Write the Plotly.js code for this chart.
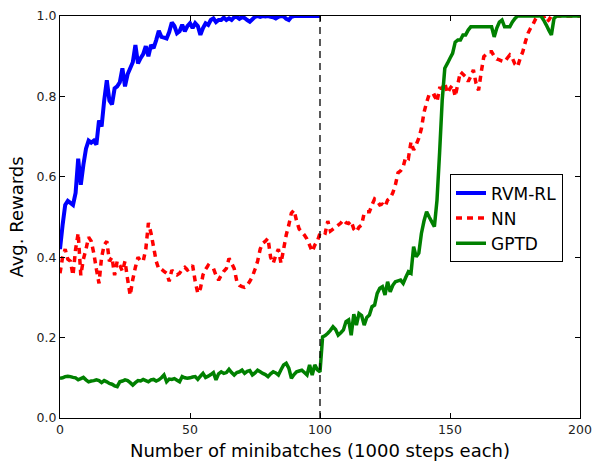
<!DOCTYPE html>
<html>
<head>
<meta charset="utf-8">
<script src="https://cdn.plot.ly/plotly-3.0.1.min.js"></script>
<style>html,body{margin:0;padding:0;background:#fff;}#chart{width:593px;height:461px;}</style>
</head>
<body>
<div id="chart"></div>
<script>
// Avg. reward per minibatch (index 0..N)
const rvmRL = [0.42,0.48,0.53,0.54,0.535,0.53,0.56,0.645,0.58,0.63,
0.67,0.69,0.685,0.69,0.68,0.74,0.725,0.79,0.84,0.79,
0.78,0.82,0.825,0.835,0.87,0.825,0.855,0.87,0.885,0.928,
0.882,0.895,0.905,0.925,0.9,0.928,0.92,0.94,0.963,0.948,
0.946,0.944,0.96,0.984,0.975,0.957,0.962,0.978,0.962,0.975,
0.982,0.97,0.982,0.975,0.953,0.97,0.982,0.978,0.99,0.994,
0.985,0.99,0.99,0.996,0.99,0.994,0.99,0.997,0.998,0.993,
0.997,0.995,0.99,0.986,0.992,0.998,1,0.998,1,0.999,
1,0.998,0.997,0.994,0.998,1,0.999,0.993,0.99,0.998,
1,1,1,1,1,1,1,1,1,1,1];

const nn = [0.36,0.40,0.42,0.395,0.39,0.355,0.42,0.46,0.355,0.395,
0.42,0.45,0.44,0.41,0.37,0.335,0.40,0.43,0.44,0.39,
0.40,0.355,0.39,0.38,0.365,0.39,0.345,0.305,0.345,0.375,
0.40,0.39,0.39,0.42,0.485,0.46,0.425,0.39,0.37,0.37,
0.365,0.36,0.34,0.368,0.36,0.356,0.36,0.37,0.375,0.368,
0.372,0.38,0.34,0.31,0.322,0.356,0.37,0.38,0.375,0.372,
0.355,0.343,0.355,0.365,0.372,0.397,0.385,0.372,0.34,0.33,
0.327,0.325,0.33,0.34,0.352,0.37,0.39,0.42,0.435,0.44,
0.447,0.4,0.385,0.405,0.42,0.385,0.42,0.455,0.48,0.51,
0.517,0.49,0.47,0.463,0.455,0.445,0.43,0.414,0.43,0.44,
0.46,0.463,0.46,0.49,0.465,0.47,0.475,0.48,0.485,0.493,
0.486,0.484,0.49,0.47,0.463,0.475,0.48,0.51,0.513,0.513,
0.53,0.545,0.54,0.53,0.532,0.526,0.542,0.547,0.56,0.58,
0.61,0.615,0.625,0.65,0.646,0.687,0.667,0.68,0.696,0.72,
0.76,0.785,0.805,0.8,0.803,0.787,0.82,0.82,0.833,0.808,
0.82,0.828,0.8,0.83,0.861,0.855,0.849,0.837,0.85,0.866,
0.833,0.815,0.86,0.899,0.905,0.911,0.911,0.9,0.893,0.891,
0.888,0.886,0.895,0.903,0.895,0.88,0.874,0.895,0.911,0.936,
0.957,0.97,0.98,0.994,0.998,1,1,0.985,0.99,1,
1,1,1,1,1,1,1,1,1,1,
1];

const gptd = [0.099,0.1,0.103,0.104,0.103,0.101,0.1,0.095,0.098,0.101,
0.095,0.09,0.092,0.093,0.095,0.093,0.088,0.093,0.09,0.086,
0.084,0.08,0.078,0.09,0.092,0.095,0.093,0.088,0.082,0.088,
0.093,0.092,0.096,0.093,0.09,0.095,0.096,0.092,0.095,0.1,
0.107,0.09,0.097,0.096,0.098,0.094,0.09,0.103,0.1,0.099,
0.1,0.102,0.103,0.096,0.104,0.111,0.101,0.104,0.108,0.113,
0.095,0.11,0.115,0.111,0.113,0.121,0.113,0.107,0.113,0.115,
0.119,0.111,0.116,0.118,0.107,0.112,0.119,0.115,0.111,0.108,
0.103,0.11,0.115,0.112,0.107,0.12,0.132,0.136,0.124,0.099,
0.108,0.115,0.117,0.119,0.113,0.107,0.132,0.107,0.132,0.12,
0.115,0.202,0.205,0.211,0.218,0.227,0.22,0.206,0.212,0.219,
0.24,0.244,0.206,0.258,0.231,0.26,0.255,0.231,0.25,0.256,
0.277,0.281,0.31,0.323,0.327,0.306,0.339,0.314,0.33,0.339,
0.341,0.343,0.335,0.35,0.364,0.36,0.426,0.401,0.41,0.459,
0.49,0.513,0.5,0.488,0.476,0.542,0.66,0.79,0.87,0.882,
0.895,0.907,0.935,0.94,0.94,0.953,0.953,0.965,0.973,0.973,
0.973,0.973,0.973,0.973,0.973,0.973,0.973,0.948,0.97,0.985,
0.99,0.973,0.973,0.973,0.985,0.994,1,1,1,1,
1,1,1,1,1,1,0.99,0.978,0.965,0.953,
0.994,1,1,1,1,1,1,1,1,1,
1];

const splitAt = 100;          // minibatch where the dashed marker sits
const yRange = [0, 1];
const xTickVals = [0, 50, 100, 150, 200];
const yTickVals = [0, 0.2, 0.4, 0.6, 0.8, 1.0];

const idx = arr => arr.map((_, i) => i);
const FONT = 'DejaVu Sans, Liberation Sans, sans-serif';

const traces = [
  {x: idx(rvmRL), y: rvmRL, name: 'RVM-RL', mode: 'lines',
   line: {color: '#0000ff', width: 4, simplify: false}},
  {x: idx(nn), y: nn, name: 'NN', mode: 'lines',
   line: {color: '#ff0000', width: 3.5, dash: '6px,5px', simplify: false}},
  {x: idx(gptd), y: gptd, name: 'GPTD', mode: 'lines',
   line: {color: '#008000', width: 3.5, simplify: false}},
  {x: [splitAt, splitAt], y: yRange, mode: 'lines', showlegend: false, hoverinfo: 'skip',
   line: {color: '#000000', width: 1.3, dash: '7px,5px'}}
];

const axisCommon = {
  showgrid: false, zeroline: false, showline: true, linecolor: '#000', linewidth: 1,
  mirror: 'ticks', ticks: 'inside', ticklen: 5, tickwidth: 1, tickcolor: '#000',
  tickfont: {family: FONT, size: 12.5, color: '#222'}
};

const layout = {
  width: 593, height: 461,
  margin: {l: 60, r: 13, t: 16, b: 43},
  paper_bgcolor: '#fff', plot_bgcolor: '#fff',
  font: {family: FONT, color: '#000'},
  xaxis: Object.assign({}, axisCommon, {
    range: [0, 200], tickvals: xTickVals, ticktext: xTickVals.map(String),
    title: {text: 'Number of minibatches (1000 steps each)', font: {family: FONT, size: 18, color: '#000'}, standoff: 9}
  }),
  yaxis: Object.assign({}, axisCommon, {
    range: [0, 1], tickvals: yTickVals, tickformat: '.1f',
    title: {text: 'Avg. Rewards', font: {family: FONT, size: 18, color: '#000'}, standoff: 8}
  }),
  showlegend: true,
  legend: {
    x: 0.75, y: 0.606, xanchor: 'left', yanchor: 'top',
    bgcolor: '#fff', bordercolor: '#000', borderwidth: 1,
    font: {family: FONT, size: 17, color: '#000'},
    itemwidth: 30, tracegroupgap: 0
  }
};

Plotly.newPlot('chart', traces, layout, {displayModeBar: false, staticPlot: true});
</script>
</body>
</html>
